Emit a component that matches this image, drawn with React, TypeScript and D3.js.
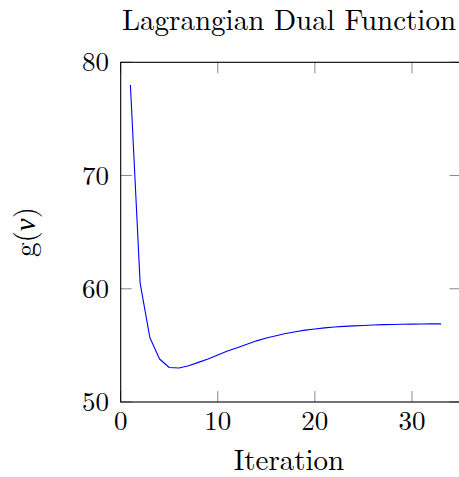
import React, { useEffect, useRef } from "react";
import * as d3 from "d3";

// g(nu) per iteration
const iterations = d3.range(1, 34);
const dualValues = [
    78, 60.5, 55.7, 53.8, 53.05, 53.0, 53.2, 53.5, 53.8, 54.15, 54.5, 54.8, 55.1, 55.4, 55.65, 55.85, 56.05,
    56.2, 56.35, 56.45, 56.55, 56.62, 56.68, 56.72, 56.76, 56.8, 56.83, 56.85, 56.87, 56.88, 56.89, 56.9, 56.9,
];
const xTicks = [0, 10, 20, 30];
const yTicks = [50, 60, 70, 80];

const FONT = "'Latin Modern Roman', 'CMU Serif', 'Liberation Serif', serif";

function App() {
    const ref = useRef<SVGSVGElement>(null);
    useEffect(() => {
        const w = 459;
        const h = 477;
        const svg = d3.select(ref.current).attr("width", w).attr("height", h).style("background", "#fff");
        svg.selectAll("*").remove();

        const x = d3.scaleLinear().domain([0, 35]).range([120.7, 460.5]);
        const y = d3.scaleLinear().domain([50, 80]).range([402, 62.3]);
        const tickLen = 11;

        const g = svg.append("g");

        // grey ticks on all four sides, pointing in
        xTicks.forEach(t => {
            g.append("line").attr("x1", x(t)).attr("x2", x(t)).attr("y1", y(50)).attr("y2", y(50) - tickLen)
                .attr("stroke", "#888").attr("stroke-width", 1);
            g.append("line").attr("x1", x(t)).attr("x2", x(t)).attr("y1", y(80)).attr("y2", y(80) + tickLen)
                .attr("stroke", "#888").attr("stroke-width", 1);
        });
        yTicks.forEach(t => {
            g.append("line").attr("x1", x(0)).attr("x2", x(0) + tickLen).attr("y1", y(t)).attr("y2", y(t))
                .attr("stroke", "#888").attr("stroke-width", 1);
            g.append("line").attr("x1", x(35)).attr("x2", x(35) - tickLen).attr("y1", y(t)).attr("y2", y(t))
                .attr("stroke", "#888").attr("stroke-width", 1);
        });

        // frame
        g.append("rect").attr("x", x(0)).attr("y", y(80)).attr("width", x(35) - x(0)).attr("height", y(50) - y(80))
            .attr("fill", "none").attr("stroke", "#000").attr("stroke-width", 1.1);

        const line = d3.line<number>().x((d, i) => x(iterations[i])).y(d => y(d));
        g.append("path").datum(dualValues).attr("d", line).attr("fill", "none").attr("stroke", "#0000ff")
            .attr("stroke-width", 1.1).attr("stroke-linejoin", "round");

        // tick labels
        g.selectAll(".xl").data(xTicks).join("text").attr("x", d => x(d)).attr("y", 430)
            .attr("text-anchor", "middle").attr("font-family", FONT).attr("font-size", 27).text(d => d);
        g.selectAll(".yl").data(yTicks).join("text").attr("x", 109).attr("y", d => y(d) + 9)
            .attr("text-anchor", "end").attr("font-family", FONT).attr("font-size", 27).text(d => d);

        // titles
        svg.append("text").attr("x", 289).attr("y", 30).attr("text-anchor", "middle").attr("font-family", FONT)
            .attr("font-size", 29).text("Lagrangian Dual Function");
        svg.append("text").attr("x", 289).attr("y", 470).attr("text-anchor", "middle").attr("font-family", FONT)
            .attr("font-size", 29).text("Iteration");
        const yl = svg.append("text").attr("transform", `translate(35, 232) rotate(-90)`).attr("text-anchor", "middle")
            .attr("font-family", FONT).attr("font-size", 29);
        yl.append("tspan").text("g(");
        yl.append("tspan").attr("font-style", "italic").text("ν");
        yl.append("tspan").text(")");
    }, []);

    return <svg ref={ref} style={{ position: "absolute", left: 0, top: 0 }} />;
}

export default App;
